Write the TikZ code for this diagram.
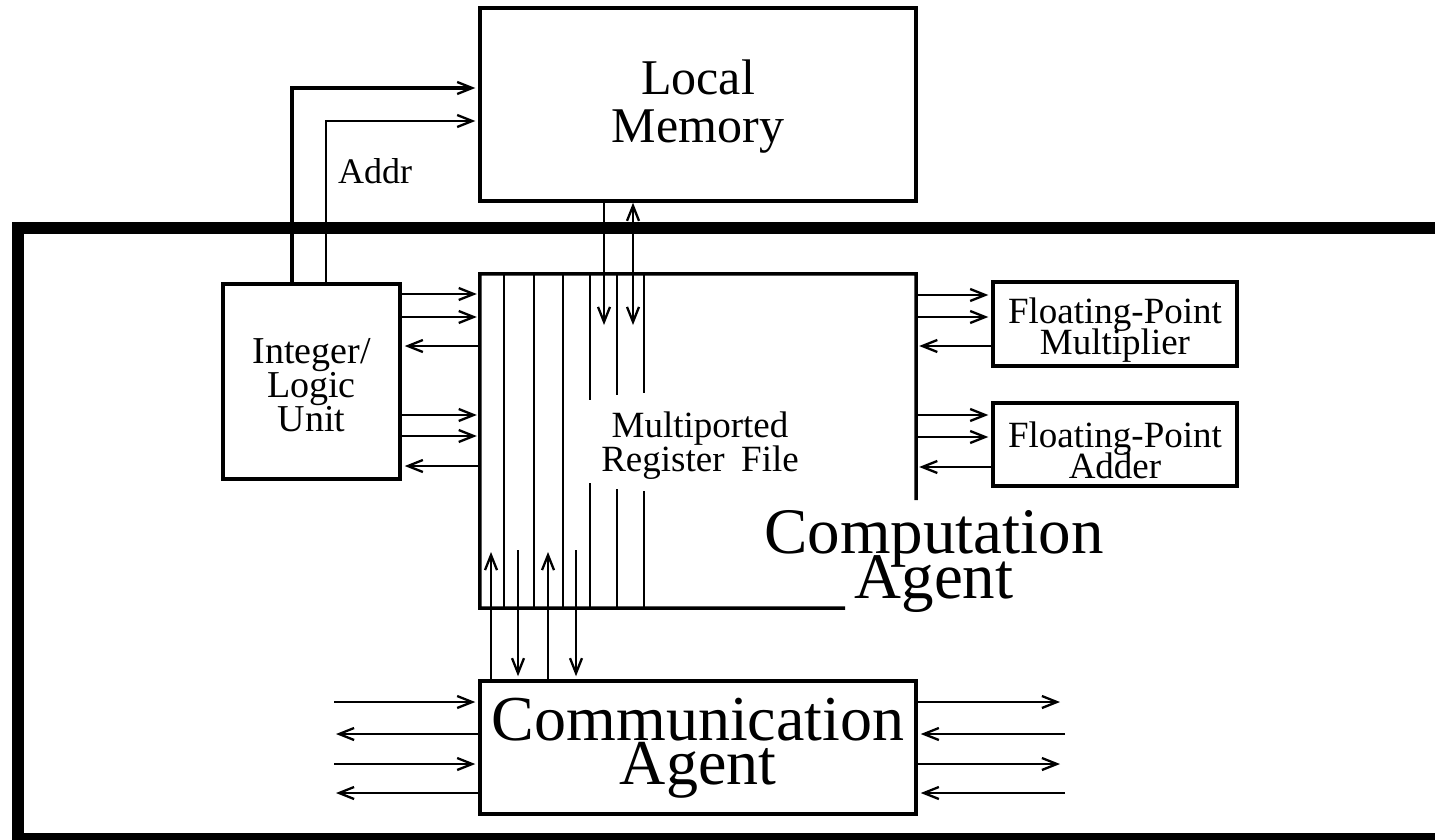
\documentclass[tikz,border=0pt]{standalone}
\usepackage{fontspec}
\setmainfont{Liberation Serif}
\usetikzlibrary{arrows.meta}
\begin{document}
\begin{tikzpicture}[x=1pt,y=-1pt,
  box/.style={draw, line width=3.5pt, inner sep=0pt},
  lbl/.style={align=center, inner sep=0pt},
  tipb/.tip={Straight Barb[length=15pt,width=12pt,line width=2.3pt]},
  conn/.style={line width=2.5pt, -tipb, shorten >=3pt},
  dconn/.style={line width=2.5pt, tipb-tipb},
  rline/.style={line width=2.3pt}
]
\lineskiplimit=-200pt
\useasboundingbox (0,0) rectangle (1435,840);
\fill[white] (0,0) rectangle (1435,840);

% outer frame (right side runs off the picture)
\draw[line width=12pt] (1460,228) -- (18,228) -- (18,839) -- (1460,839);

% boxes
\node[box, minimum width=436pt, minimum height=193pt] (mem) at (698,104.5) {};
\node[box, minimum width=177pt, minimum height=195pt] (ilu) at (311.5,381.5) {};
\node[box, minimum width=244pt, minimum height=84pt] (fpm) at (1115,324) {};
\node[box, minimum width=244pt, minimum height=83pt] (fpa) at (1115,444.5) {};
\node[box, minimum width=436pt, minimum height=133pt] (comm) at (698,747.5) {};

% box texts
\node[lbl, font=\fontsize{50}{48}\selectfont] (memt) at ([yshift=-2pt]mem.center) {Local\\Memory};
\node[lbl, font=\fontsize{38}{34}\selectfont] (ilut) at ([yshift=-4pt]ilu.center) {Integer/\\Logic\\Unit};
\node[lbl, font=\fontsize{37}{31}\selectfont] (fpmt) at ([yshift=-6pt]fpm.center) {Floating-Point\\Multiplier};
\node[lbl, font=\fontsize{37}{31}\selectfont] (fpat) at ([yshift=-6pt]fpa.center) {Floating-Point\\Adder};
\node[lbl, font=\fontsize{64}{44}\selectfont] (commt) at ([yshift=-1pt]comm.center) {Communication\\Agent};

% register file outline
\node[inner sep=0pt, minimum width=436pt, minimum height=334pt] (rf) at (698,441) {};
\coordinate (rfend) at (845,608);
\draw[line width=3.5pt] (rf.east |- 0,500) -- (rf.north east) -- (rf.north west) -- (rf.south west) -- (rfend);
\foreach \x in {504,534,563}
  \draw[rline] (rf.north -| \x,0) -- (rf.south -| \x,0);
\draw[rline] (rf.north -| 590,0) -- (590,400);
\draw[rline] (rf.north -| 617,0) -- (617,395);
\draw[rline] (rf.north -| 644,0) -- (644,393);
\draw[rline] (590,483) -- (rf.south -| 590,0);
\draw[rline] (617,489) -- (rf.south -| 617,0);
\draw[rline] (644,491) -- (rf.south -| 644,0);

% labels
\node[lbl, font=\fontsize{37}{34}\selectfont] (rflabel) at (700,446) {Multiported\\Register\hspace{0.45em}File};
\node[lbl, font=\fontsize{65}{45}\selectfont] (calabel) at (934,561) {Computation\\Agent};
\node[font=\fontsize{36}{36}\selectfont, anchor=base west, inner sep=0pt] (addr) at (338,183) {Addr};

% address lines
\draw[conn, line width=3.2pt] (ilu.north -| 292,0) |- (mem.west |- 0,88);
\draw[conn] (ilu.north -| 326,0) |- (mem.west |- 0,121);

% memory <-> register file
\draw[conn, shorten >=0pt] (mem.south -| 604,0) -- (604,325);
\draw[dconn] (mem.south -| 633,0) -- (633,325);

% integer unit <-> register file
\foreach \y in {294,317,415,436}
  \draw[conn] (ilu.east |- 0,\y) -- (rf.west |- 0,\y);
\foreach \y in {346,466}
  \draw[conn] (rf.west |- 0,\y) -- (ilu.east |- 0,\y);

% register file <-> floating point units
\foreach \y in {295,317}
  \draw[conn] (rf.east |- 0,\y) -- (fpm.west |- 0,\y);
\draw[conn] (fpm.west |- 0,346) -- (rf.east |- 0,346);
\foreach \y in {415,437}
  \draw[conn] (rf.east |- 0,\y) -- (fpa.west |- 0,\y);
\draw[conn] (fpa.west |- 0,467) -- (rf.east |- 0,467);

% communication agent <-> register file
\foreach \x in {491,548}
  \draw[conn, shorten >=0pt] (comm.north -| \x,0) -- (\x,552);
\foreach \x in {518,576}
  \draw[conn] (\x,550) -- (comm.north -| \x,0);

% communication agent external links
\draw[conn] (334,702) -- (comm.west |- 0,702);
\draw[conn, shorten >=0pt] (comm.west |- 0,734) -- (336,734);
\draw[conn] (334,764) -- (comm.west |- 0,764);
\draw[conn, shorten >=0pt] (comm.west |- 0,793) -- (336,793);
\draw[conn, shorten >=0pt] (comm.east |- 0,702) -- (1060,702);
\draw[conn] (1065,734) -- (comm.east |- 0,734);
\draw[conn, shorten >=0pt] (comm.east |- 0,764) -- (1060,764);
\draw[conn] (1065,793) -- (comm.east |- 0,793);
\end{tikzpicture}
\end{document}
